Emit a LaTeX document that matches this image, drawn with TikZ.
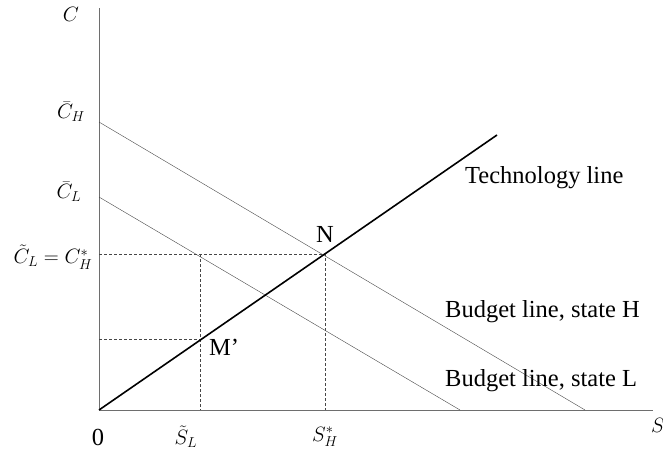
\documentclass[tikz,border=0pt]{standalone}
\usepackage{amsmath}
\usepackage{fontspec}
\setmainfont{Liberation Serif}
\usepackage{tikz}
\usetikzlibrary{calc}
\definecolor{achse}{RGB}{110,110,110}
\definecolor{budget}{RGB}{70,70,70}
\tikzset{hilfslinie/.style={densely dashed, thin, budget}}
\tikzset{beschriftung/.style={font=\fontsize{21}{23}\selectfont, inner sep=1pt}}
\tikzset{textmarke/.style={font=\fontsize{24.5}{26}\selectfont, inner sep=1pt}}

\begin{document}
\begin{tikzpicture}[x=1pt, y=-1pt, line join=round]
	\useasboundingbox (0,0) rectangle (663,450);

	\coordinate (O) at (99,410);
	\coordinate (Ctop) at (99,8);
	\coordinate (Send) at (653,410);
	\coordinate (CH) at (99,122);
	\coordinate (CL) at (99,197);
	\coordinate (BH) at (585,410);
	\coordinate (BL) at (460,410);
	\coordinate (T) at (497,135);
	\coordinate (N) at (325,254);
	\coordinate (M) at (200,339);
	\coordinate (Cs) at (99,254);
	\coordinate (Cm) at (99,339);
	\coordinate (SL) at (200,410);
	\coordinate (SH) at (325,410);
	\coordinate (SLtop) at (200,254);

	% Achsen
	\draw[achse, semithick] (Ctop) -- (O) -- (Send);

	% Hilfslinien
	\draw[hilfslinie] (Cs) -- (N) -- (SH);
	\draw[hilfslinie] (SLtop) -- (SL);
	\draw[hilfslinie] (Cm) -- (M);

	% Budgetgeraden und Technologie
	\draw[budget, thin] (CH) -- (BH);
	\draw[budget, thin] (CL) -- (BL);
	\draw[black, line width=1.6pt] (O) -- (T);

	% Beschriftungen
	\node[beschriftung] (lC) at (71,14) {$C$};
	\node[beschriftung] (lS) at (658,425) {$S$};
	\node[textmarke] (l0) at (98,437) {0};
	\node[beschriftung] (lCH) at (71,112) {$\bar{C}_H$};
	\node[beschriftung] (lCL) at (69,192) {$\bar{C}_L$};
	\node[beschriftung] (lCs) at (53,257) {$\tilde{C}_L = C_H^*$};
	\node[beschriftung] (lSL) at (186,437) {$\tilde{S}_L$};
	\node[beschriftung] (lSH) at (325,437) {$S_H^*$};
	\node[textmarke] (lN) at (325,234) {N};
	\node[textmarke] (lM) at (224,347) {M'};
	\node[textmarke, anchor=west] (lT) at (464,178) {Technology line};
	\node[textmarke, anchor=west] (lBH) at (444,312) {Budget line, state H};
	\node[textmarke, anchor=west] (lBL) at (444,381) {Budget line, state L};
\end{tikzpicture}
\end{document}
